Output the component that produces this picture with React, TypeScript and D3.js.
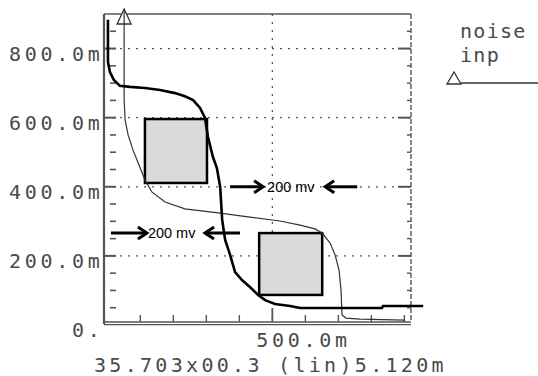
import React from "react";
import * as d3 from "d3";

// transfer curves (mV in, mV out)
const outputCurve: [number, number][] = [
  [2, 883], [2, 761], [8, 732], [20, 709], [38, 692], [69, 689], [114, 686],
  [160, 680], [205, 671], [235, 662], [260, 651], [281, 628], [296, 599],
  [305, 544], [320, 486], [332, 454], [342, 399], [348, 304], [357, 246],
  [372, 203], [387, 153], [408, 130], [432, 110], [457, 87], [478, 72],
  [508, 61], [554, 55], [584, 49], [832, 49], [835, 55], [957, 55],
];
const inputCurve: [number, number][] = [
  [51, 900], [51, 651], [54, 593], [63, 550], [78, 506], [96, 463], [114, 420],
  [135, 385], [175, 356], [235, 336], [342, 324], [432, 312], [523, 301],
  [584, 289], [629, 278], [651, 266], [675, 237], [690, 203], [702, 159],
  [708, 101], [711, 29], [723, 20], [766, 17], [902, 14],
];

// noise margin squares [x0, x1, y0, y1]
const boxes = [
  [114, 302, 411, 596],
  [460, 651, 87, 266],
];

// "200 mv" annotations
const notes = [
  { y: 400, from: 372, to: 472, label: 484, tip: 660, tail: 757 },
  { y: 266, from: 11, to: 120, label: 123, tip: 296, tail: 402 },
];

const yLabels = [
  { v: 800, t: "800.0m" },
  { v: 600, t: "600.0m" },
  { v: 400, t: "400.0m" },
  { v: 200, t: "200.0m" },
  { v: 0, t: "0." },
];
const xMinor = [100, 200, 300, 400, 600, 700, 800, 900];
const yMinor = d3.range(50, 900, 50);
const yGrid = [200, 400, 600, 800];
const xGrid = [500];
const footer = "35.703x00.3 (lin)5.120m";
const legend = ["noise", "inp"];

const mono = "'DejaVu Sans Mono', monospace";
const textCol = "#4a4a4a";
const axisCol = "#555";

export default function App() {
  const x = d3.scaleLinear().domain([-10, 920]).range([104, 411]);
  const y = d3.scaleLinear().domain([0, 900]).range([325, 14]);
  const left = x(-10), right = x(920), top = y(900), bottom = 322;

  const line = d3.line<[number, number]>().x(d => x(d[0])).y(d => y(d[1]));

  const arrowRight = (x1: number, x2: number, yy: number) => (
    <g>
      <line x1={x1} x2={x2 - 1} y1={yy} y2={yy} stroke="#000" strokeWidth={3} />
      <path d={`M${x2 - 9},${yy - 6}L${x2},${yy}L${x2 - 9},${yy + 6}`} fill="none" stroke="#000" strokeWidth={3} />
    </g>
  );
  const arrowLeft = (tip: number, tail: number, yy: number) => (
    <g>
      <line x1={tip + 1} x2={tail} y1={yy} y2={yy} stroke="#000" strokeWidth={3} />
      <path d={`M${tip + 9},${yy - 6}L${tip},${yy}L${tip + 9},${yy + 6}`} fill="none" stroke="#000" strokeWidth={3} />
    </g>
  );

  const start = inputCurve[0];

  return (
    <svg width={538} height={376} style={{ position: "absolute", left: 0, top: 0, background: "#fff" }}>
      {/* grid */}
      {yGrid.map(v => (
        <line key={"gy" + v} x1={left} x2={right} y1={y(v)} y2={y(v)} stroke="#555" strokeWidth={1.3} strokeDasharray="2,6" />
      ))}
      {xGrid.map(v => (
        <line key={"gx" + v} x1={x(v)} x2={x(v)} y1={top} y2={bottom} stroke="#555" strokeWidth={1.3} strokeDasharray="2,6" />
      ))}

      {/* frame */}
      <line x1={left} x2={left} y1={top} y2={bottom + 2} stroke={axisCol} strokeWidth={2.2} />
      <line x1={left} x2={right} y1={top} y2={top} stroke={axisCol} strokeWidth={1.5} />
      <line x1={left} x2={right} y1={bottom} y2={bottom} stroke={axisCol} strokeWidth={1.4} />
      <line x1={left} x2={right} y1={bottom + 2.6} y2={bottom + 2.6} stroke={axisCol} strokeWidth={1.4} />
      <line x1={right} x2={right} y1={top} y2={bottom} stroke={axisCol} strokeWidth={1.4} strokeDasharray="5,2" />

      {/* ticks */}
      {yMinor.map(v => {
        const major = v % 200 === 0;
        return (
          <g key={"ty" + v}>
            <line x1={major ? left : left + 6} x2={left + 12} y1={y(v)} y2={y(v)} stroke={axisCol} strokeWidth={major ? 2 : 1.6} />
            <line x1={right - (major ? 13 : 4)} x2={right} y1={y(v)} y2={y(v)} stroke={axisCol} strokeWidth={major ? 2 : 1.4} />
          </g>
        );
      })}
      {xMinor.map(v => (
        <line key={"tx" + v} x1={x(v)} x2={x(v)} y1={bottom} y2={bottom - 7} stroke={axisCol} strokeWidth={1.4} />
      ))}
      {xGrid.map(v => (
        <line key={"txm" + v} x1={x(v)} x2={x(v)} y1={bottom} y2={bottom - 14} stroke={axisCol} strokeWidth={1.8} />
      ))}

      {/* noise margin boxes */}
      {boxes.map((b, i) => (
        <rect key={"b" + i} x={x(b[0])} y={y(b[3])} width={x(b[1]) - x(b[0])} height={y(b[2]) - y(b[3])}
          fill="#dadada" stroke="#000" strokeWidth={2.5} />
      ))}

      {/* curves */}
      <path d={line(inputCurve) || ""} fill="none" stroke="#333" strokeWidth={1.2} />
      <path d={line(outputCurve) || ""} fill="none" stroke="#000" strokeWidth={2.6} />

      {/* start marker */}
      <path d={`M${x(start[0])},${top - 5}L${x(start[0]) - 7},${top + 10}L${x(start[0]) + 7},${top + 10}Z`}
        fill="#fff" stroke="#333" strokeWidth={1.3} />
      <line x1={x(start[0])} x2={x(start[0])} y1={top - 5} y2={top + 10} stroke="#333" strokeWidth={1.2} />

      {/* annotations */}
      {notes.map((n, i) => (
        <g key={"n" + i}>
          {arrowRight(x(n.from), x(n.to), y(n.y))}
          <text x={x(n.label)} y={y(n.y) + 5} fontFamily="'Liberation Sans', Arial, sans-serif" fontSize={14.5} fill="#000">200 mv</text>
          {arrowLeft(x(n.tip), x(n.tail), y(n.y))}
        </g>
      ))}

      {/* axis labels */}
      {yLabels.map(l => (
        <text key={"yl" + l.v} x={103.5} y={y(l.v) + 12} textAnchor="end" fontFamily={mono} fontSize={20}
          letterSpacing={3.7} fill={textCol}>{l.t}</text>
      ))}
      <text x={x(500) - 16} y={347} fontFamily={mono} fontSize={20} letterSpacing={3.7} fill={textCol}>500.0m</text>
      <text x={94} y={372} fontFamily={mono} fontSize={20} letterSpacing={3.3} fill={textCol}>{footer}</text>

      {/* legend */}
      <text x={460} y={38} fontFamily={mono} fontSize={20} letterSpacing={1.3} fill={textCol}>{legend[0]}</text>
      <text x={460} y={62} fontFamily={mono} fontSize={20} letterSpacing={1.3} fill={textCol}>{legend[1]}</text>
      <path d="M454,72L447,84L461,84Z" fill="#fff" stroke="#333" strokeWidth={1.3} />
      <line x1={461} x2={538} y1={83} y2={83} stroke="#333" strokeWidth={1.3} />
    </svg>
  );
}
